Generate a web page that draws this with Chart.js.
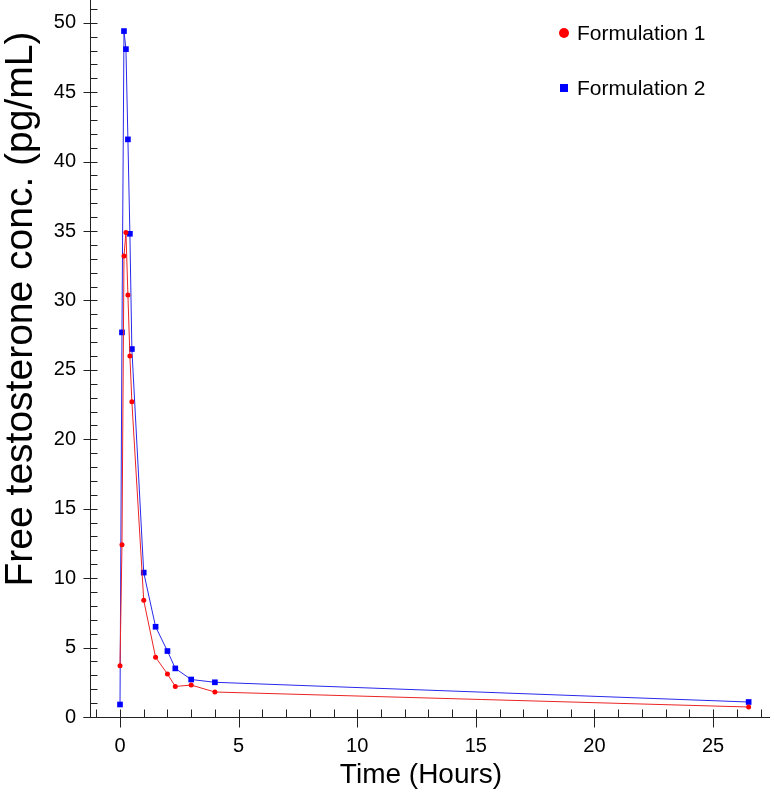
<!DOCTYPE html>
<html>
<head>
<meta charset="utf-8">
<title>Free testosterone concentration</title>
<script src="https://cdn.jsdelivr.net/npm/chart.js@4.4.1/dist/chart.umd.min.js"></script>
<style>
  html, body { margin: 0; padding: 0; background: #fff; }
  #wrap { position: relative; width: 774px; height: 794px; }
</style>
</head>
<body>
<div id="wrap"><canvas id="ftChart"></canvas></div>
<script>
// sampling times in hours
const times = [0, 0.083, 0.167, 0.25, 0.333, 0.417, 0.5, 1, 1.5, 2, 2.33, 3, 4, 26.5];
// free testosterone (pg/mL)
const formulation1 = [3.7, 12.4, 33.2, 34.9, 30.4, 26.0, 22.7, 8.4, 4.3, 3.1, 2.2, 2.3, 1.8, 0.72];
const formulation2 = [0.9, 27.7, 49.4, 48.1, 41.6, 34.8, 26.5, 10.4, 6.5, 4.75, 3.5, 2.7, 2.5, 1.08];
const seriesNames = ['Formulation 1', 'Formulation 2'];
const xTickLabels = [0, 5, 10, 15, 20, 25];
const yTickLabels = [0, 5, 10, 15, 20, 25, 30, 35, 40, 45, 50];

const FONT = "'Liberation Sans', Arial, sans-serif";
const AXIS_COLOR = '#222';

function toPoints(values) {
  return times.map((t, i) => ({ x: t, y: values[i] }));
}

// axis lines, minor ticks (inside) every unit, major ticks crossing the axis
const axisMarks = {
  id: 'axisMarks',
  afterDraw(chart) {
    const { ctx, chartArea, scales } = chart;
    const x = scales.x, y = scales.y;
    const bottom = Math.round(chartArea.bottom) + 0.5;
    const left = Math.round(chartArea.left) + 0.5;
    ctx.save();
    ctx.strokeStyle = AXIS_COLOR;
    ctx.lineWidth = 1;
    ctx.beginPath();
    ctx.moveTo(left - 7, bottom);
    ctx.lineTo(chartArea.right, bottom);
    ctx.moveTo(left, 0);
    ctx.lineTo(left, bottom);
    for (let v = Math.ceil(x.min); v <= x.max; v++) {
      const px = Math.round(x.getPixelForValue(v)) + 0.5;
      const major = xTickLabels.includes(v);
      ctx.moveTo(px, bottom - 8);
      ctx.lineTo(px, bottom + (major ? 10 : 0));
    }
    for (let v = Math.ceil(y.min); v <= y.max; v++) {
      const py = Math.round(y.getPixelForValue(v)) + 0.5;
      const major = yTickLabels.includes(v);
      ctx.moveTo(left - (major ? 7 : 0), py);
      ctx.lineTo(left + 7, py);
    }
    ctx.stroke();
    ctx.restore();
  }
};

// axis titles and the in-plot legend
const annotations = {
  id: 'annotations',
  afterDraw(chart) {
    const { ctx, chartArea } = chart;
    ctx.save();
    ctx.fillStyle = '#000';
    ctx.textBaseline = 'middle';

    ctx.font = '28px ' + FONT;
    ctx.textAlign = 'center';
    ctx.fillText('Time (Hours)', 421, chartArea.bottom + 58);

    ctx.save();
    ctx.translate(21, 309);
    ctx.rotate(-Math.PI / 2);
    ctx.font = '39px ' + FONT;
    ctx.fillText('Free testosterone conc. (pg/mL)', 0, 0);
    ctx.restore();

    ctx.font = '21px ' + FONT;
    ctx.textAlign = 'left';
    const ds = chart.data.datasets;
    const lx = 564;
    ctx.fillStyle = ds[0].pointBackgroundColor;
    ctx.beginPath();
    ctx.arc(lx, 33, 5, 0, Math.PI * 2);
    ctx.fill();
    ctx.fillStyle = ds[1].pointBackgroundColor;
    ctx.fillRect(lx - 4, 84, 8, 8);
    ctx.fillStyle = '#000';
    ctx.fillText(ds[0].label, lx + 13, 34);
    ctx.fillText(ds[1].label, lx + 13, 89);
    ctx.restore();
  }
};

new Chart(document.getElementById('ftChart'), {
  type: 'line',
  data: {
    datasets: [
      {
        label: seriesNames[0],
        data: toPoints(formulation1),
        borderColor: 'rgb(235, 35, 35)',
        borderWidth: 1,
        pointStyle: 'circle',
        pointRadius: 2.5,
        pointBorderWidth: 0,
        pointBackgroundColor: '#ff0000',
        tension: 0
      },
      {
        label: seriesNames[1],
        data: toPoints(formulation2),
        borderColor: 'rgb(40, 40, 235)',
        borderWidth: 1,
        pointStyle: 'rect',
        pointRadius: 4,
        pointBorderWidth: 0,
        pointBackgroundColor: '#0000ff',
        tension: 0
      }
    ]
  },
  options: {
    responsive: true,
    maintainAspectRatio: false,
    animation: false,
    layout: { padding: { top: 0, right: 4, bottom: 0, left: 0 } },
    plugins: {
      legend: { display: false },
      tooltip: { enabled: false }
    },
    scales: {
      x: {
        type: 'linear',
        min: -1.265,
        max: 27.4,
        afterFit(scale) {
          scale.height = 77;
          scale.paddingLeft = 0;
          scale.paddingRight = 0;
        },
        grid: { display: false, drawTicks: false },
        border: { display: false },
        ticks: {
          stepSize: 1,
          includeBounds: false,
          autoSkip: false,
          maxRotation: 0,
          padding: 17,
          color: '#000',
          font: { family: FONT, size: 20 },
          callback: v => xTickLabels.includes(v) ? String(v) : null
        }
      },
      y: {
        type: 'linear',
        min: 0,
        max: 51.35,
        afterFit(scale) {
          scale.width = 90;
          scale.paddingTop = 0;
          scale.paddingBottom = 0;
        },
        grid: { display: false, drawTicks: false },
        border: { display: false },
        ticks: {
          stepSize: 1,
          includeBounds: false,
          autoSkip: false,
          padding: 14,
          color: '#000',
          font: { family: FONT, size: 20 },
          callback: v => yTickLabels.includes(v) ? String(v) : null
        }
      }
    }
  },
  plugins: [axisMarks, annotations]
});
</script>
</body>
</html>
